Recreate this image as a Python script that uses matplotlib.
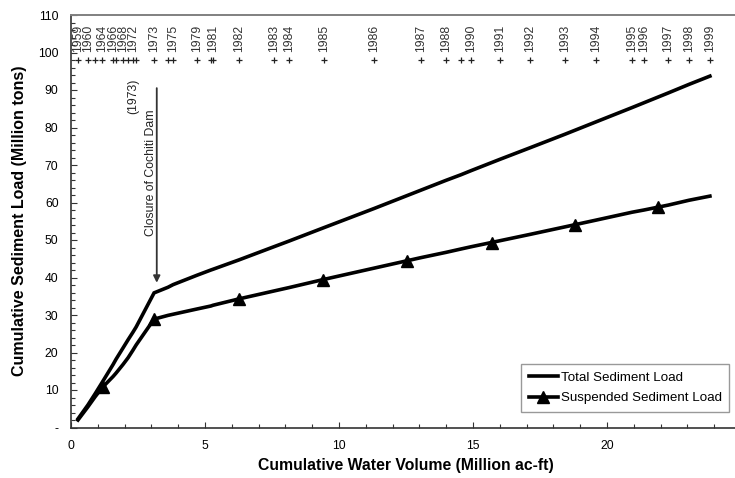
import matplotlib
matplotlib.use("Agg")
import matplotlib.pyplot as plt
from matplotlib.ticker import MultipleLocator, FuncFormatter

plt.rcParams['font.family'] = ['Liberation Sans', 'DejaVu Sans']

# Cumulative water volume (million ac-ft) at the end of each record year
water_volume = [0.26, 0.63, 0.90, 1.16, 1.57, 1.68, 1.94, 2.13, 2.31, 2.43,
                3.10, 3.62, 3.81, 4.70, 5.22, 5.30, 6.27, 7.57, 8.13, 9.44,
                11.31, 13.06, 13.99, 14.55, 14.93, 16.00, 17.13, 18.43, 19.59,
                20.93, 21.38, 22.28, 23.06, 23.84]
# Year label shown above each record marker ("" where the label is hidden)
year_labels = ["1959", "1960", "", "1964", "1966", "", "1968", "", "1972", "",
               "1973", "", "1975", "1979", "", "1981", "1982", "1983", "1984",
               "1985", "1986", "1987", "1988", "", "1990", "1991", "1992",
               "1993", "1994", "1995", "1996", "1997", "1998", "1999"]
# Cumulative sediment loads (million tons)
total_load = [2.3, 6.0, 9.0, 12.0, 16.8, 18.2, 21.2, 23.4, 25.4, 26.8,
              35.9, 37.4, 38.1, 40.6, 42.0, 42.2, 44.7, 48.2, 49.7, 53.3,
              58.4, 63.3, 65.9, 67.4, 68.5, 71.5, 74.6, 78.2, 81.5,
              85.3, 86.6, 89.2, 91.5, 93.7]
suspended_load = [2.0, 5.5, 8.2, 10.6, 13.6, 14.5, 16.8, 18.6, 20.6, 22.0,
                  28.9, 29.9, 30.2, 31.6, 32.4, 32.6, 34.3, 36.4, 37.3, 39.5,
                  42.5, 45.3, 46.7, 47.6, 48.2, 49.8, 51.5, 53.5, 55.3,
                  57.4, 58.0, 59.3, 60.6, 61.7]
# Marker points along the suspended-load curve
susp_marker_volume = [1.20, 3.08, 6.25, 9.40, 12.55, 15.70, 18.80, 21.90]
susp_marker_load = [10.8, 28.9, 34.3, 39.4, 44.5, 49.3, 54.0, 58.8]

year_row_level = 98.0

fig = plt.figure(figsize=(7.35, 4.78), dpi=100)
ax = fig.add_axes([71 / 735, 1 - 427.5 / 478, 670 / 735, 412.5 / 478])

ax.plot(water_volume, total_load, color='black', lw=2.6, solid_joinstyle='miter',
        label='Total Sediment Load', zorder=3)
ax.plot(water_volume, suspended_load, color='black', lw=2.6, zorder=3)
ax.plot(susp_marker_volume, susp_marker_load, linestyle='none', marker='^',
        ms=8, color='black', zorder=4)
# proxy handle for the legend entry with the line + marker
ax.plot([], [], color='black', lw=2.6, marker='^', ms=8,
        label='Suspended Sediment Load')

# Year markers along the top
ax.plot(water_volume, [year_row_level] * len(water_volume), linestyle='none',
        marker='+', ms=5, mew=0.9, color='#222222', zorder=3)
for xv, lab in zip(water_volume, year_labels):
    if lab:
        ax.annotate(lab, (xv, year_row_level), xytext=(0, 6),
                    textcoords='offset points', rotation=90, ha='center',
                    va='bottom', fontsize=8.8, color='#333333')

# Dam closure annotation
ax.annotate('', xy=(3.2, 38.6), xytext=(3.2, 90.5),
            arrowprops=dict(arrowstyle='-|>', color='#333333', lw=1.3,
                            mutation_scale=10, shrinkA=0, shrinkB=0))
ax.text(2.98, 68.0, 'Closure of Cochiti Dam', rotation=90, ha='center',
        va='center', fontsize=8.8, color='#222222')
ax.text(2.31, 88.4, '(1973)', rotation=90, ha='center', va='center',
        fontsize=8.8, color='#222222')

ax.set_xlim(0, 25)
ax.set_ylim(0, 110)
ax.xaxis.set_major_locator(MultipleLocator(5))
ax.xaxis.set_minor_locator(MultipleLocator(1))
ax.yaxis.set_major_locator(MultipleLocator(10))
ax.yaxis.set_minor_locator(MultipleLocator(2))
ax.yaxis.set_major_formatter(FuncFormatter(lambda v, p: '-' if v == 0 else f'{v:.0f}'))
ax.tick_params(which='both', direction='in', labelsize=8.8, colors='#333333',
               labelcolor='black')
ax.tick_params(which='major', length=4, width=0.8)
ax.tick_params(which='minor', length=3, width=0.8)
ax.tick_params(axis='y', pad=9)
ax.tick_params(axis='x', pad=9)

for side in ('left', 'bottom'):
    ax.spines[side].set_color('#333333')
    ax.spines[side].set_linewidth(1.2)
ax.spines['top'].set_color('#808080')
ax.spines['top'].set_linewidth(1.4)
ax.spines['right'].set_color('#808080')

ax.set_xlabel('Cumulative Water Volume (Million ac-ft)', fontsize=11.3,
              fontweight='bold', labelpad=4)
ax.set_ylabel('Cumulative Sediment Load (Million tons)', fontsize=11.5,
              fontweight='bold', labelpad=8)

leg = ax.legend(loc='lower right', bbox_to_anchor=(0.992, 0.022), fontsize=9.6,
                frameon=True, fancybox=False, handlelength=2.2,
                handletextpad=0.2, borderpad=0.55, labelspacing=0.6)
leg.get_frame().set_edgecolor('#808080')
leg.get_frame().set_linewidth(1.0)

fig.savefig('out.png', dpi=100)
